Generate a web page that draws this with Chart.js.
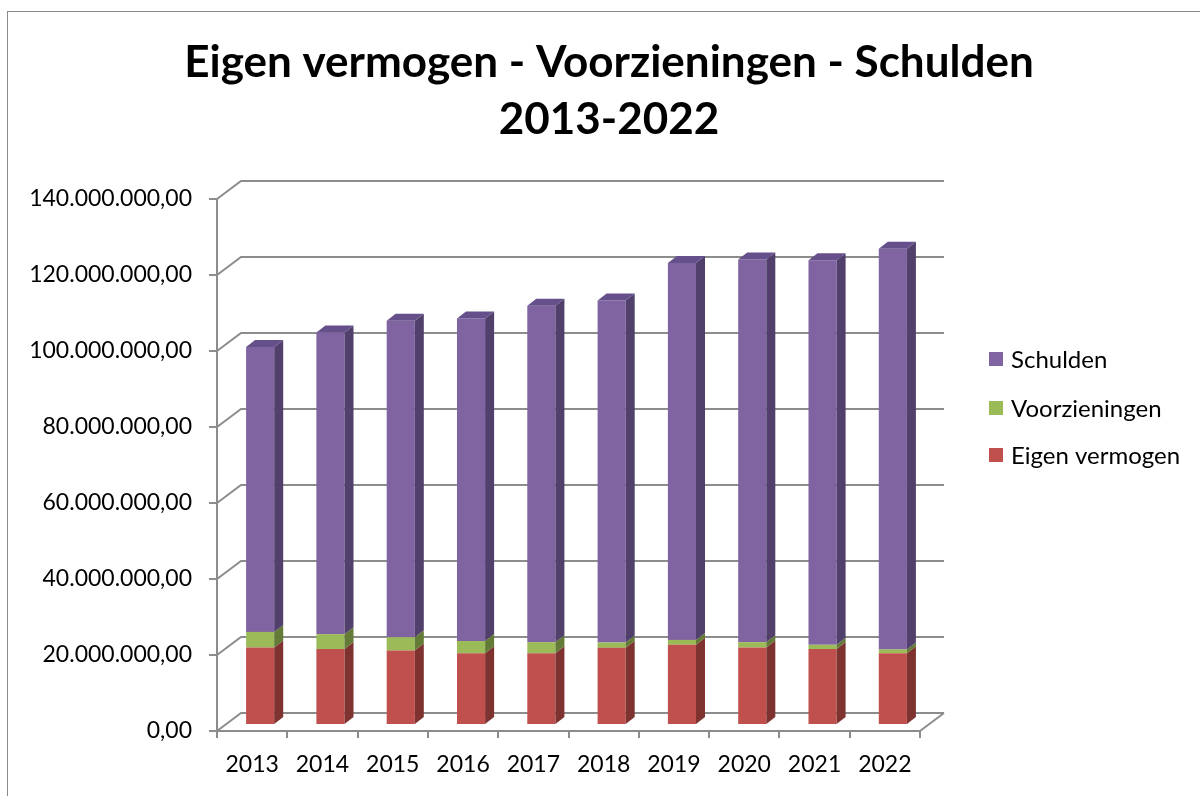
<!DOCTYPE html>
<html lang="nl">
<head>
<meta charset="utf-8">
<title>Eigen vermogen - Voorzieningen - Schulden 2013-2022</title>
<script src="https://cdn.jsdelivr.net/npm/chart.js@4/dist/chart.umd.min.js"></script>
<style>
  html, body { margin: 0; padding: 0; background: #fff; }
  #wrap { width: 1200px; height: 796px; position: relative; }
</style>
</head>
<body>
<div id="wrap"><canvas id="balans"></canvas></div>
<script>
// Balansopbouw per jaar (euro)
const jaren = ['2013', '2014', '2015', '2016', '2017', '2018', '2019', '2020', '2021', '2022'];
const eigenVermogen = [20400000, 20000000, 19600000, 18900000, 18900000, 20300000, 21100000, 20400000, 20000000, 18900000];
const voorzieningen = [4100000, 3900000, 3500000, 3200000, 2900000, 1400000, 1300000, 1400000, 1100000, 1000000];
const schulden = [75000000, 79400000, 83300000, 84900000, 88500000, 90000000, 99200000, 100700000, 101200000, 105400000];
const titelRegels = ['Eigen vermogen - Voorzieningen - Schulden', '2013-2022'];
const yMax = 140000000;
const yStap = 20000000;

const FONT = 'Lato, "Noto Sans", sans-serif';
const LIJN = '#8c8c8c';

// diepte van de 3D-wanden en van de kolommen
const WAND_DX = 24, WAND_DY = 18;
const KOLOM_DX = 8, KOLOM_DY = 6;
const ZIJ_DX = 9, ZIJ_DY = 7;

const zijkleur = ['#7f3331', '#647a37', '#52406c'];
const bovenkleur = ['#a44542', '#86a24b', '#65508b'];

// 140000000 -> "140.000.000,00"
function bedrag(v) {
    const heel = Math.round(v).toString().replace(/\B(?=(\d{3})+(?!\d))/g, '.');
    return heel + ',00';
}

// Achterwand, vloer en schuine verbindingslijnen
const wanden = {
    id: 'wanden',
    beforeDatasetsDraw(chart) {
        const ctx = chart.ctx;
        const y = chart.scales.y;
        const x = chart.scales.x;
        const links = chart.chartArea.left;
        const rechts = chart.chartArea.right;
        ctx.save();
        ctx.strokeStyle = LIJN;
        ctx.lineWidth = 2;
        y.ticks.forEach(t => {
            const py = y.getPixelForValue(t.value);
            ctx.beginPath();
            ctx.moveTo(links, py);
            ctx.lineTo(links + WAND_DX, py - WAND_DY);
            ctx.lineTo(rechts + WAND_DX, py - WAND_DY);
            ctx.stroke();
        });
        const basis = y.getPixelForValue(0);
        ctx.beginPath();
        ctx.moveTo(x.right, basis);
        ctx.lineTo(x.right + WAND_DX, basis - WAND_DY);
        ctx.stroke();
        ctx.restore();

        // kolommen staan iets naar achteren op de vloer
        ctx.save();
        ctx.translate(KOLOM_DX, -KOLOM_DY);
    },
    afterDatasetsDraw(chart) {
        const ctx = chart.ctx;
        const laatste = chart.data.datasets.length - 1;
        chart.data.datasets.forEach((ds, i) => {
            const meta = chart.getDatasetMeta(i);
            meta.data.forEach(el => {
                const p = el.getProps(['x', 'y', 'base', 'width'], true);
                const l = p.x - p.width / 2;
                const r = p.x + p.width / 2;
                const boven = Math.min(p.y, p.base);
                const onder = Math.max(p.y, p.base);
                // zijvlak
                ctx.fillStyle = zijkleur[i];
                ctx.beginPath();
                ctx.moveTo(r, onder);
                ctx.lineTo(r, boven);
                ctx.lineTo(r + ZIJ_DX, boven - ZIJ_DY);
                ctx.lineTo(r + ZIJ_DX, onder - ZIJ_DY);
                ctx.closePath();
                ctx.fill();
                // bovenvlak alleen op de bovenste laag
                if (i === laatste) {
                    ctx.fillStyle = bovenkleur[i];
                    ctx.beginPath();
                    ctx.moveTo(l, boven);
                    ctx.lineTo(l + ZIJ_DX, boven - ZIJ_DY);
                    ctx.lineTo(r + ZIJ_DX, boven - ZIJ_DY);
                    ctx.lineTo(r, boven);
                    ctx.closePath();
                    ctx.fill();
                }
            });
        });
        ctx.restore();
    }
};

// Titel, legenda en kader
const opmaak = {
    id: 'opmaak',
    afterDraw(chart) {
        const ctx = chart.ctx;
        ctx.save();
        ctx.strokeStyle = '#8a8a8a';
        ctx.lineWidth = 1;
        ctx.strokeRect(7.5, 11.5, 1300, 900);

        ctx.fillStyle = '#000';
        ctx.textAlign = 'center';
        ctx.textBaseline = 'middle';
        ctx.font = 'bold 44px ' + FONT;
        ctx.fillText(titelRegels[0], 609, 63);
        ctx.fillText(titelRegels[1], 609, 120);

        // legenda in omgekeerde volgorde (bovenste laag eerst)
        ctx.font = '24px ' + FONT;
        ctx.textAlign = 'left';
        const ys = [359, 408, 455];
        const sets = chart.data.datasets.slice().reverse();
        sets.forEach((ds, k) => {
            ctx.fillStyle = ds.backgroundColor;
            ctx.fillRect(989, ys[k] - 7, 14, 14);
            ctx.fillStyle = '#000';
            ctx.fillText(ds.label, 1011, ys[k] + 1);
        });
        ctx.restore();
    }
};

new Chart(document.getElementById('balans'), {
    type: 'bar',
    data: {
        labels: jaren,
        datasets: [
            { label: 'Eigen vermogen', data: eigenVermogen, backgroundColor: '#c0504d' },
            { label: 'Voorzieningen', data: voorzieningen, backgroundColor: '#9bbb59' },
            { label: 'Schulden', data: schulden, backgroundColor: '#8064a2' }
        ]
    },
    options: {
        responsive: true,
        maintainAspectRatio: false,
        animation: false,
        layout: { padding: { left: 0, right: 280, top: 199, bottom: 0 } },
        datasets: {
            bar: { categoryPercentage: 1, barPercentage: 0.4, borderWidth: 0, clip: false }
        },
        plugins: {
            legend: { display: false },
            title: { display: false },
            tooltip: { enabled: false }
        },
        scales: {
            x: {
                stacked: true,
                afterFit(scale) { scale.height = 65; },
                grid: { display: true, offset: true, drawOnChartArea: false, tickLength: 7, color: LIJN, lineWidth: 2 },
                border: { display: true, color: LIJN, width: 2 },
                ticks: { color: '#000', font: { family: FONT, size: 23 }, padding: 13, maxRotation: 0 }
            },
            y: {
                stacked: true,
                min: 0,
                max: yMax,
                afterFit(scale) { scale.width = 217; },
                grid: { display: true, drawOnChartArea: false, tickLength: 8, color: LIJN, lineWidth: 2 },
                border: { display: true, color: LIJN, width: 2 },
                ticks: {
                    stepSize: yStap,
                    color: '#000',
                    font: { family: FONT, size: 23 },
                    padding: 17,
                    callback: v => bedrag(v)
                }
            }
        }
    },
    plugins: [wanden, opmaak]
});
</script>
</body>
</html>
